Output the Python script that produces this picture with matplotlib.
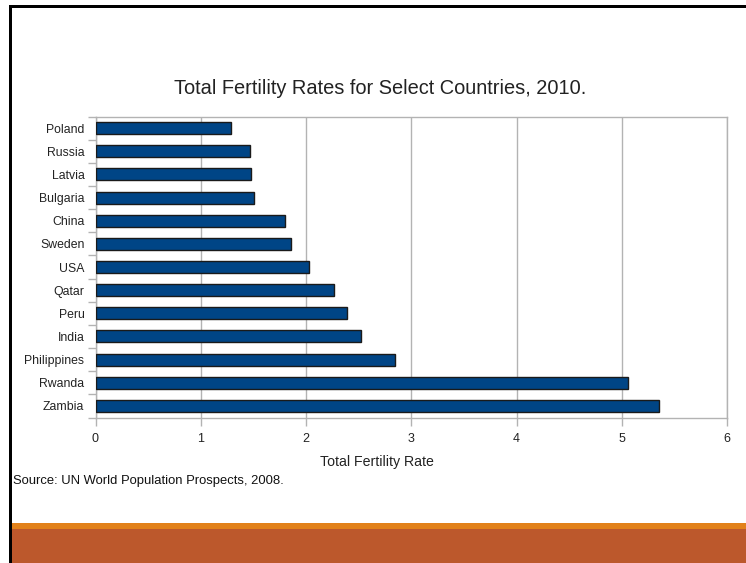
import matplotlib
matplotlib.use("Agg")
import matplotlib.pyplot as plt
from matplotlib.patches import Rectangle
import numpy as np

plt.rcParams['font.family'] = ['Liberation Sans', 'DejaVu Sans']

## data
countries = ["Poland", "Russia", "Latvia", "Bulgaria", "China", "Sweden", "USA",
             "Qatar", "Peru", "India", "Philippines", "Rwanda", "Zambia"]
tfr = [1.29, 1.47, 1.48, 1.51, 1.80, 1.86, 2.03, 2.27, 2.39, 2.52, 2.85, 5.06, 5.35]
xticks = [0, 1, 2, 3, 4, 5, 6]

W, H = 746, 563
fig = plt.figure(figsize=(W / 100, H / 100), dpi=100)

## slide decorations: black frame on the left/top, orange band at the bottom
fig.add_artist(Rectangle((10 / W, 0), (W - 10) / W, (H - 523) / H, transform=fig.transFigure,
                         color="#e2811a", lw=0))
fig.add_artist(Rectangle((10 / W, 0), (W - 10) / W, (H - 529) / H, transform=fig.transFigure,
                         color="#bc582c", lw=0))
fig.add_artist(Rectangle((9 / W, 0), 3 / W, (H - 5) / H, transform=fig.transFigure,
                         color="black", lw=0))
fig.add_artist(Rectangle((9 / W, (H - 8) / H), (W - 9) / W, 3 / H, transform=fig.transFigure,
                         color="black", lw=0))

## chart area
left, right, top, bottom = 95.5, 727, 116.5, 417.5
ax = fig.add_axes([left / W, (H - bottom) / H, (right - left) / W, (bottom - top) / H])

y = np.arange(len(countries))
ax.barh(y, tfr, height=0.52, color="#004586", edgecolor="#1a1a1a", linewidth=1, zorder=3)

ax.set_xlim(0, 6)
ax.set_ylim(len(countries) - 0.5, -0.5)
ax.set_xticks(xticks)
ax.set_yticks(y)
ax.set_yticklabels(countries)
ax.set_yticks(np.arange(len(countries) + 1) - 0.5, minor=True)

grey = "#b3b3b3"
ax.grid(axis="x", color=grey, linewidth=1, zorder=0)
for s in ax.spines.values():
    s.set_color(grey)
    s.set_linewidth(1)
ax.tick_params(axis="y", which="major", length=0, pad=8, labelsize=8.8, labelcolor="#222222")
ax.tick_params(axis="y", which="minor", length=6, color=grey, width=1)
ax.tick_params(axis="x", which="major", length=6, color=grey, width=1, pad=5,
               labelsize=9, labelcolor="#222222")

fig.text(380 / W, 1 - 88 / H, "Total Fertility Rates for Select Countries, 2010.",
         ha="center", va="center", fontsize=14.4, color="#222222")
fig.text(377 / W, 1 - 462 / H, "Total Fertility Rate", ha="center", va="center",
         fontsize=10.2, color="#222222")
fig.text(13 / W, 1 - 481 / H, "Source: UN World Population Prospects, 2008.", ha="left",
         va="center", fontsize=9.4, color="#111111")

fig.savefig("out.png", dpi=100)
